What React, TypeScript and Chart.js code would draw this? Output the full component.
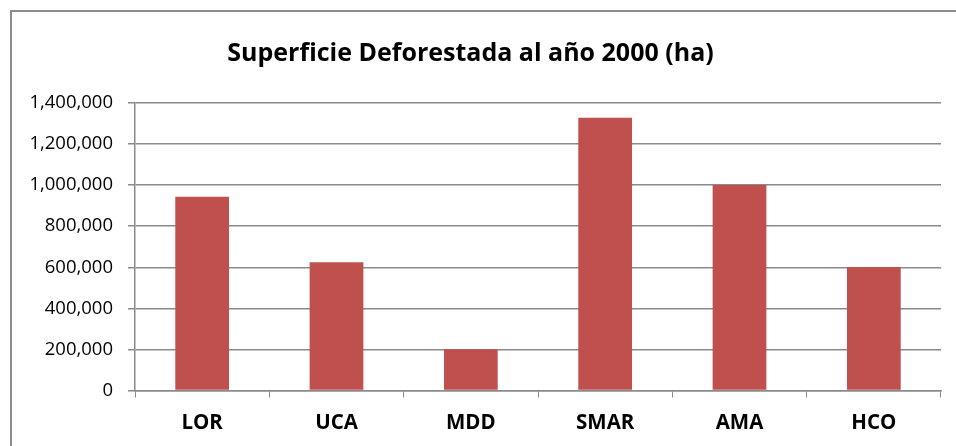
import React, { useEffect, useRef } from "react";
import { Chart, registerables } from "chart.js";

Chart.register(...registerables);

const TITLE = "Superficie Deforestada al año 2000 (ha)";
const categories = ["LOR", "UCA", "MDD", "SMAR", "AMA", "HCO"];
const values = [943000, 625000, 201000, 1328000, 1001000, 602000];
const yMin = 0;
const yMax = 1400000;
const yStep = 200000;

const FONT = "'Open Sans', 'Liberation Sans', sans-serif";
const GRID = "#8a8a8a";
const BAR = "#C0504D";

const framePlugin = {
  id: "frame",
  beforeDraw(chart: any) {
    const { ctx, width, height } = chart;
    ctx.save();
    ctx.fillStyle = "#ffffff";
    ctx.fillRect(0, 0, width, height);
    ctx.strokeStyle = "#8c8c8c";
    ctx.lineWidth = 2;
    ctx.beginPath();
    ctx.moveTo(11, height);
    ctx.lineTo(11, 11);
    ctx.lineTo(width, 11);
    ctx.stroke();
    ctx.restore();
  },
};

export default function App() {
  const ref = useRef<HTMLCanvasElement | null>(null);
  useEffect(() => {
    if (!ref.current) return;
    const chart = new Chart(ref.current, {
      type: "bar",
      data: {
        labels: categories,
        datasets: [
          {
            label: "ha",
            data: values,
            backgroundColor: BAR,
            borderWidth: 0,
            barPercentage: 0.4,
            categoryPercentage: 1,
          },
        ],
      },
      options: {
        responsive: false,
        animation: false,
        layout: { padding: { left: 0, right: 15, top: 0, bottom: 0 } },
        plugins: {
          legend: { display: false },
          tooltip: { enabled: false },
          title: {
            display: true,
            text: TITLE,
            color: "#000",
            font: { family: FONT, size: 25, weight: "bold", lineHeight: 1.2 },
            padding: { top: 39, bottom: 34 },
          },
        },
        scales: {
          x: {
            grid: {
              display: true,
              drawOnChartArea: false,
              drawTicks: true,
              tickLength: 7,
              color: GRID,
              offset: true,
            },
            border: { display: true, color: GRID, width: 1.5 },
            ticks: {
              color: "#000",
              font: { family: FONT, size: 20.5, weight: "bold", lineHeight: 1.2 },
              padding: 13,
              maxRotation: 0,
            },
            afterFit(scale: any) {
              scale.height = 55.5;
            },
          },
          y: {
            min: yMin,
            max: yMax,
            ticks: {
              stepSize: yStep,
              color: "#000",
              font: { family: FONT, size: 18.5, lineHeight: 1.2 },
              padding: 15,
              callback: (v: any) => Number(v).toLocaleString("en-US"),
            },
            grid: {
              color: GRID,
              lineWidth: 1.5,
              tickLength: 7,
              drawTicks: true,
            },
            border: { display: true, color: GRID, width: 1.5 },
            afterFit(scale: any) {
              scale.width = 135;
            },
          },
        },
      },
      plugins: [framePlugin],
    } as any);
    return () => chart.destroy();
  }, []);
  return (
    <div style={{ position: "fixed", left: 0, top: 0, width: 956, height: 446, background: "#fff" }}>
      <canvas ref={ref} width={956} height={446} style={{ display: "block" }} />
    </div>
  );
}
